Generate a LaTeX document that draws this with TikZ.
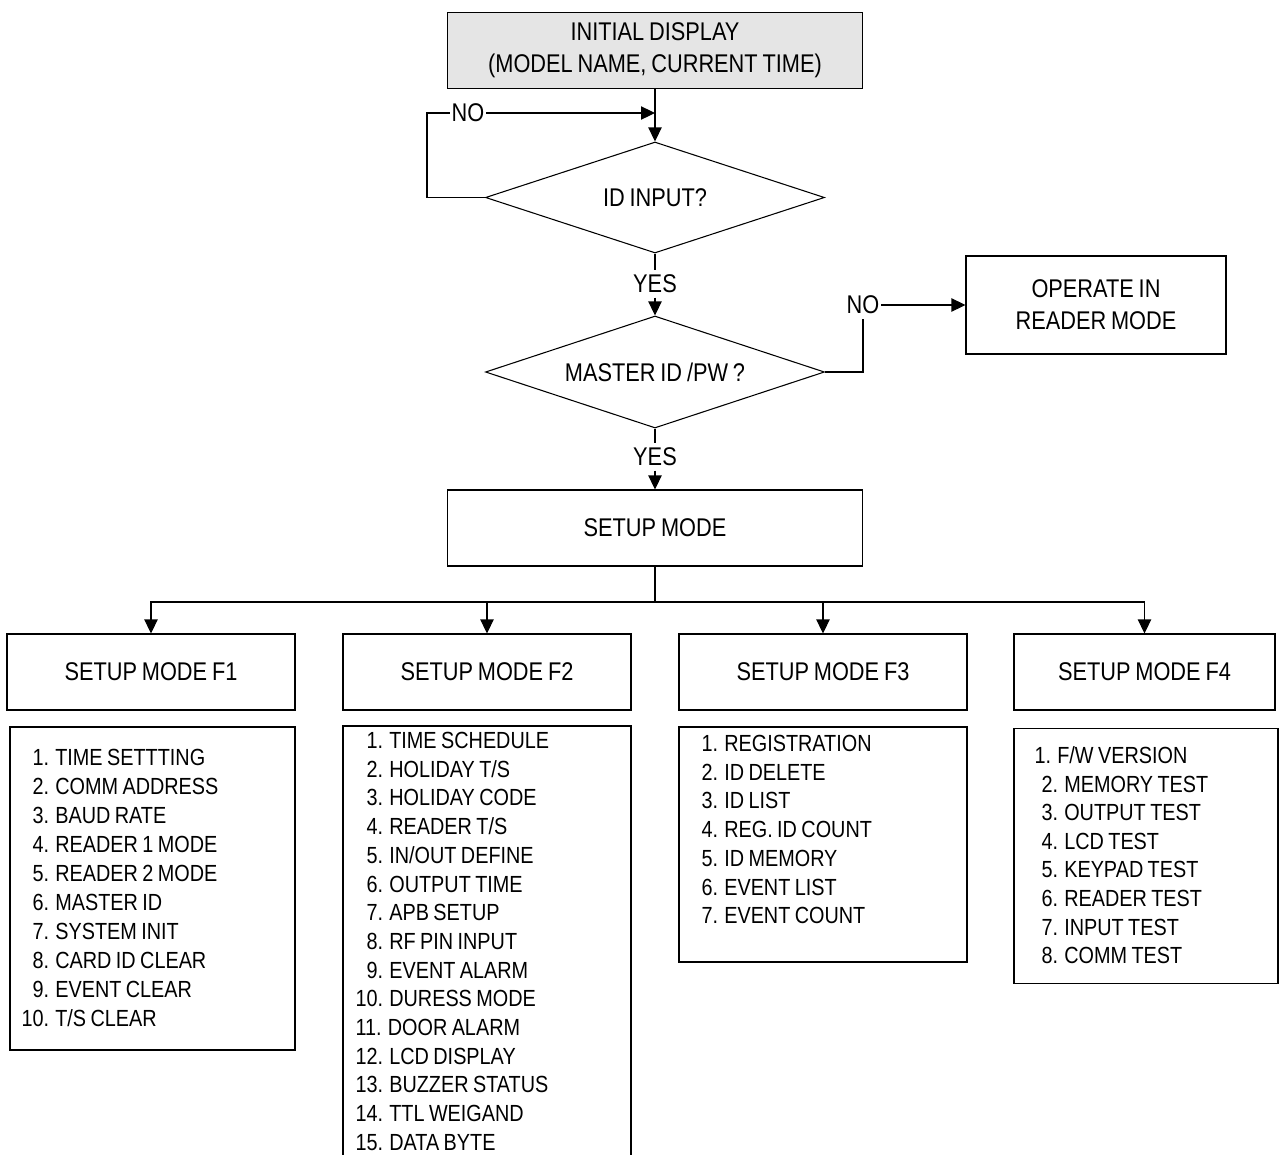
\documentclass[tikz,border=0pt]{standalone}
\usepackage{fontspec}
\setmainfont{Liberation Sans}[FakeStretch=0.85,WordSpace=0.8]
\usetikzlibrary{shapes.geometric,arrows.meta}
\newcommand{\z}{\hphantom{0}}
\begin{document}
\begin{tikzpicture}[x=0.75pt,y=-0.75pt,
  line width=0.8pt,
  >={Triangle[length=10.5pt,width=10pt]},
  lbl/.style={font=\fontsize{19.2}{24}\selectfont, align=center},
  box/.style={draw, rectangle, inner sep=0pt, lbl},
  choice/.style={draw, diamond, aspect=3.05, inner sep=0pt, lbl, minimum width=254.25pt},
  tag/.style={lbl, inner xsep=1pt, inner ysep=3pt},
  item/.style={font=\fontsize{17.5}{21.5}\selectfont, inner sep=0pt, anchor=base west},
  listbox/.style={draw, rectangle, inner sep=0pt},
]
\useasboundingbox (0,0) rectangle (1279,1154);
\fill[white] (0,0) rectangle (1279,1154);

% main decision chain
\node[box, fill=black!10, minimum width=311.25pt, minimum height=57pt] (init) at (655,50.5)
  {INITIAL DISPLAY\\(MODEL NAME, CURRENT TIME)};
\node[choice, minimum height=83.25pt] (id) at (655,197.5) {ID INPUT?};
\node[choice, minimum height=84pt] (master) at (655,372) {MASTER ID /PW ?};
\node[box, minimum width=195pt, minimum height=73.5pt] (reader) at (1096,305)
  {OPERATE IN\\READER MODE};
\node[box, minimum width=311.25pt, minimum height=57pt] (setup) at (655,528) {SETUP MODE};

% branch labels
\node[tag] (no1) at (468,113) {NO};
\node[tag] (yes1) at (655,284) {YES};
\node[tag] (no2) at (863,305) {NO};
\node[tag] (yes2) at (655,457) {YES};

% setup sub-modes
\node[box, minimum width=216pt, minimum height=57pt] (f1) at (151,672) {SETUP MODE F1};
\node[box, minimum width=216pt, minimum height=57pt] (f2) at (487,672) {SETUP MODE F2};
\node[box, minimum width=216pt, minimum height=57pt] (f3) at (823,672) {SETUP MODE F3};
\node[box, minimum width=195.75pt, minimum height=57pt] (f4) at (1144.5,672) {SETUP MODE F4};

% connectors
\coordinate (join) at (655,113);
\coordinate (bus) at (655,602);
\draw[->] (init.south) -- (id.north);
\draw (id.west) -| (427,113) -- (no1.west);
\draw[->] (no1.east) -- (join);
\draw (id.south) -- (yes1.north);
\draw[->] (yes1.south) -- (master.north);
\draw (master.east) -| (no2.south);
\draw[->] (no2.east) -- (reader.west);
\draw (master.south) -- (yes2.north);
\draw[->] (yes2.south) -- (setup.north);
\draw (setup.south) -- (bus);
\draw[->] (bus) -| (f1.north);
\draw[->] (bus) -| (f2.north);
\draw[->] (bus) -| (f3.north);
\draw[->] (bus) -| (f4.north);

% function lists
\node[listbox, minimum width=213.75pt, minimum height=242.25pt] (l1) at (152.5,888.5) {};
\begin{scope}
  \clip (0,0) rectangle (1279,1154);
  \node[listbox, minimum width=216pt, minimum height=333pt] (l2) at (487,948) {};
\end{scope}
\node[listbox, minimum width=216pt, minimum height=176.25pt] (l3) at (823,844.5) {};
\node[listbox, minimum width=198pt, minimum height=191.25pt] (l4) at (1146,856) {};

\foreach \t [count=\i] in {\z1. TIME SETTTING, \z2. COMM ADDRESS, \z3. BAUD RATE,
    \z4. READER 1 MODE, \z5. READER 2 MODE, \z6. MASTER ID, \z7. SYSTEM INIT,
    \z8. CARD ID CLEAR, \z9. EVENT CLEAR, 10. T/S CLEAR}
  \node[item, name=a\i] at (21,{765.5+29*(\i-1)}) {\t};

\foreach \t [count=\i] in {\z1. TIME SCHEDULE, \z2. HOLIDAY T/S, \z3. HOLIDAY CODE,
    \z4. READER T/S, \z5. IN/OUT DEFINE, \z6. OUTPUT TIME, \z7. APB SETUP,
    \z8. RF PIN INPUT, \z9. EVENT ALARM, 10. DURESS MODE, 11. DOOR ALARM,
    12. LCD DISPLAY, 13. BUZZER STATUS, 14. TTL WEIGAND, 15. DATA BYTE}
  \node[item, name=b\i] at (355,{748.5+28.7*(\i-1)}) {\t};

\foreach \t [count=\i] in {1. REGISTRATION, 2. ID DELETE, 3. ID LIST,
    4. REG. ID COUNT, 5. ID MEMORY, 6. EVENT LIST, 7. EVENT COUNT}
  \node[item, name=c\i] at (701,{751.5+28.7*(\i-1)}) {\t};

\node[item, name=d1] at (1034,763.5) {1. F/W VERSION};
\foreach \t [count=\i from 2] in {2. MEMORY TEST, 3. OUTPUT TEST, 4. LCD TEST,
    5. KEYPAD TEST, 6. READER TEST, 7. INPUT TEST, 8. COMM TEST}
  \node[item, name=d\i] at (1041,{763.5+28.6*(\i-1)}) {\t};
\end{tikzpicture}
\end{document}
